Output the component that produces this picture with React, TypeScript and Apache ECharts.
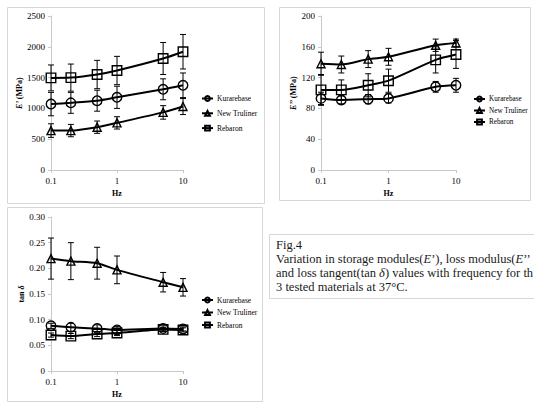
import React, { useEffect, useRef } from "react";
import * as echarts from "echarts";

const freqs = [0.1, 0.2, 0.5, 1, 5, 10];
const seriesNames = ["Kurarebase", "New Truliner", "Rebaron"];

const storageKurarebase = [1070, 1090, 1125, 1180, 1310, 1375];
const storageNewTruliner = [640, 640, 695, 765, 935, 1030];
const storageRebaron = [1495, 1500, 1550, 1615, 1810, 1920];
const storageKurarebaseErr = [190, 170, 170, 180, 170, 200];
const storageNewTrulinerErr = [110, 100, 100, 100, 110, 130];
const storageRebaronErr = [210, 220, 230, 230, 260, 280];

const lossKurarebase = [93, 91, 92, 93, 108, 110];
const lossNewTruliner = [138, 137, 144, 147, 162, 165];
const lossRebaron = [104, 104, 110, 116, 143, 150];
const lossKurarebaseErr = [8, 5, 6, 6, 7, 9];
const lossNewTrulinerErr = [15, 11, 11, 11, 8, 5];
const lossRebaronErr = [20, 13, 15, 15, 17, 18];

const tanKurarebase = [0.088, 0.085, 0.083, 0.08, 0.083, 0.082];
const tanNewTruliner = [0.219, 0.214, 0.21, 0.197, 0.173, 0.163];
const tanRebaron = [0.07, 0.068, 0.072, 0.074, 0.081, 0.08];
const tanKurarebaseErr = [0.005, 0.008, 0.007, 0.007, 0.005, 0.004];
const tanNewTrulinerErr = [0.04, 0.036, 0.031, 0.027, 0.019, 0.017];
const tanRebaronErr = [0.004, 0.005, 0.005, 0.005, 0.004, 0.004];

const captionLines = [
  "Fig.4",
  "Variation in storage modules({i|E}’), loss modulus({i|E}’’",
  "and loss tangent(tan {i|δ}) values with frequency for th",
  "3 tested materials at 37°C.",
];

const SERIF = "Liberation Serif";
const symbols = ["circle", "triangle", "rect"];
const symbolSizes = [9.5, 8, 9.5];

function errorSeries(xi: number, vals: number[], errs: number[], name: string) {
  return {
    type: "custom",
    name,
    xAxisIndex: xi,
    yAxisIndex: xi,
    silent: true,
    z: 1,
    data: freqs.map((f, i) => [f, vals[i], errs[i]]),
    encode: { x: 0, y: 1 },
    renderItem: (params: any, api: any) => {
      const x = api.value(0);
      const y = api.value(1);
      const e = api.value(2);
      const top = api.coord([x, y + e]);
      const bot = api.coord([x, y - e]);
      const hw = 3;
      const st = { stroke: "#000", lineWidth: 1 };
      return {
        type: "group",
        children: [
          { type: "line", shape: { x1: top[0], y1: top[1], x2: bot[0], y2: bot[1] }, style: st },
          { type: "line", shape: { x1: top[0] - hw, y1: top[1], x2: top[0] + hw, y2: top[1] }, style: st },
          { type: "line", shape: { x1: bot[0] - hw, y1: bot[1], x2: bot[0] + hw, y2: bot[1] }, style: st },
        ],
      };
    },
  };
}

function lineSeries(xi: number, k: number, vals: number[]) {
  return {
    type: "line",
    name: seriesNames[k],
    xAxisIndex: xi,
    yAxisIndex: xi,
    z: 3,
    smooth: 0.25,
    symbol: symbols[k],
    symbolSize: symbolSizes[k],
    showAllSymbol: true,
    lineStyle: { color: "#000", width: 2 },
    itemStyle: { color: "rgba(255,255,255,0)", borderColor: "#000", borderWidth: 1.4 },
    data: freqs.map((f, i) => [f, vals[i]]),
  };
}

function xAxis(gi: number) {
  return {
    type: "log",
    logBase: 10,
    gridIndex: gi,
    min: 0.1,
    max: 10,
    name: "Hz",
    nameLocation: "middle",
    nameGap: 19,
    nameTextStyle: { fontFamily: SERIF, fontSize: 8, fontWeight: "bold", color: "#000" },
    axisLine: { lineStyle: { color: "#c8c8c8", width: 1 } },
    axisTick: { show: true, length: 3, lineStyle: { color: "#c8c8c8" } },
    minorTick: { show: false },
    splitLine: { show: false },
    axisLabel: { fontFamily: SERIF, fontSize: 9, color: "#000", margin: 6 },
  };
}

function yAxis(gi: number, max: number, interval: number, name: string, fmt: (v: number) => string, nameGap: number) {
  return {
    type: "value",
    gridIndex: gi,
    min: 0,
    max,
    interval,
    name,
    nameLocation: "middle",
    nameGap,
    nameTextStyle: {
      fontFamily: SERIF,
      fontSize: 8,
      fontWeight: "bold",
      color: "#000",
      rich: { i: { fontFamily: SERIF, fontSize: 8, fontWeight: "bold", fontStyle: "italic", color: "#000" } },
    },
    axisLine: { show: true, lineStyle: { color: "#c8c8c8", width: 1 } },
    axisTick: { show: true, length: 3, lineStyle: { color: "#c8c8c8" } },
    splitLine: { show: false },
    axisLabel: { fontFamily: SERIF, fontSize: 9, color: "#000", margin: 6, formatter: fmt },
  };
}

function legend(left: number, top: number, gap: number, fs: number) {
  return {
    orient: "vertical",
    left,
    top,
    padding: 0,
    data: seriesNames,
    itemWidth: 11,
    itemHeight: 6,
    itemGap: gap,
    selectedMode: false,
    textStyle: { fontFamily: SERIF, fontSize: fs, color: "#000", lineHeight: 10, padding: [0, 0, 0, -1] },
  };
}

export default function App() {
  const ref = useRef<HTMLDivElement>(null);
  useEffect(() => {
    if (!ref.current) return;
    const chart = echarts.init(ref.current, null, { renderer: "svg" });
    const frameStyle = { fill: "none", stroke: "#d6d6d6", lineWidth: 1 };
    const option: any = {
      animation: false,
      backgroundColor: "#fff",
      grid: [
        { left: 51, top: 16, width: 132, height: 154 },
        { left: 321, top: 16, width: 135, height: 154 },
        { left: 51, top: 217, width: 132, height: 154 },
      ],
      xAxis: [xAxis(0), xAxis(1), xAxis(2)],
      yAxis: [
        yAxis(0, 2500, 500, "{i|E}’ (MPa)", (v: number) => String(v), 24),
        yAxis(1, 200, 40, "{i|E}’’ (MPa)", (v: number) => String(v), 17),
        yAxis(2, 0.3, 0.05, "tan {i|δ}", (v: number) => (v === 0 ? "0" : v.toFixed(2)), 24),
      ],
      legend: [legend(201, 93.5, 4.8, 7.5), legend(473, 94, 1.5, 7.2), legend(201, 295, 2.5, 7.5)],
      graphic: [
        { type: "rect", shape: { x: 7.5, y: 7.5, width: 257, height: 196 }, style: frameStyle, silent: true },
        { type: "rect", shape: { x: 279.5, y: 7.5, width: 251, height: 193 }, style: frameStyle, silent: true },
        { type: "rect", shape: { x: 7.5, y: 207.5, width: 255, height: 194 }, style: frameStyle, silent: true },
        { type: "rect", shape: { x: 269.5, y: 234.5, width: 270, height: 64 }, style: frameStyle, silent: true },
        ...captionLines.map((t, i) => ({
          type: "text",
          x: 276,
          y: 245 + i * 13.9,
          silent: true,
          style: {
            text: t,
            fontFamily: SERIF,
            fontSize: 12.5,
            fill: "#1a1a1a",
            verticalAlign: "middle",
            align: "left",
            rich: { i: { fontFamily: SERIF, fontSize: 12.5, fontStyle: "italic", fill: "#1a1a1a" } },
          },
        })),
      ],
      series: [
        errorSeries(0, storageKurarebase, storageKurarebaseErr, "e0k"),
        errorSeries(0, storageNewTruliner, storageNewTrulinerErr, "e0n"),
        errorSeries(0, storageRebaron, storageRebaronErr, "e0r"),
        lineSeries(0, 0, storageKurarebase),
        lineSeries(0, 1, storageNewTruliner),
        lineSeries(0, 2, storageRebaron),
        errorSeries(1, lossKurarebase, lossKurarebaseErr, "e1k"),
        errorSeries(1, lossNewTruliner, lossNewTrulinerErr, "e1n"),
        errorSeries(1, lossRebaron, lossRebaronErr, "e1r"),
        lineSeries(1, 0, lossKurarebase),
        lineSeries(1, 1, lossNewTruliner),
        lineSeries(1, 2, lossRebaron),
        errorSeries(2, tanKurarebase, tanKurarebaseErr, "e2k"),
        errorSeries(2, tanNewTruliner, tanNewTrulinerErr, "e2n"),
        errorSeries(2, tanRebaron, tanRebaronErr, "e2r"),
        lineSeries(2, 0, tanKurarebase),
        lineSeries(2, 1, tanNewTruliner),
        lineSeries(2, 2, tanRebaron),
      ],
    };
    chart.setOption(option);
    return () => chart.dispose();
  }, []);
  return (
    <div
      ref={ref}
      style={{ position: "absolute", left: 0, top: 0, width: 534, height: 403, overflow: "hidden" }}
    />
  );
}
